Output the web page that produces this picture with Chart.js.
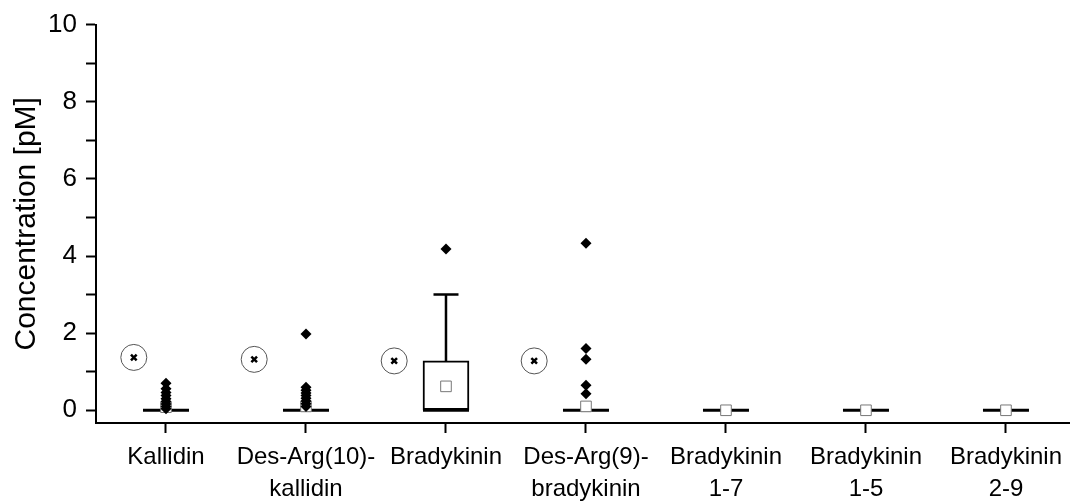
<!DOCTYPE html>
<html>
<head>
<meta charset="utf-8">
<script src="https://cdn.jsdelivr.net/npm/chart.js@4"></script>
<style>
    body { margin: 0; background: #fff; }
    #wrap { width: 1070px; height: 502px; }
</style>
</head>
<body>
<div id="wrap"><canvas id="chart" width="1070" height="502"></canvas></div>
<script>
// ─── Data ──────────────────────────────────

const categories = [
    ['Kallidin'],
    ['Des-Arg(10)-', 'kallidin'],
    ['Bradykinin'],
    ['Des-Arg(9)-', 'bradykinin'],
    ['Bradykinin', '1-7'],
    ['Bradykinin', '1-5'],
    ['Bradykinin', '2-9']
];

// box statistics per peptide
const q1          = [0, 0, 0,    0, 0, 0, 0];
const q3          = [0, 0, 1.28, 0, 0, 0, 0];
const medians     = [0, 0, 0,    0, 0, 0, 0];
const whiskerLow  = [0, 0, 0,    0, 0, 0, 0];
const whiskerHigh = [0, 0, 3.0,  0, 0, 0, 0];
const means       = [0.08, 0.1, 0.62, 0.1, 0, 0, 0];

// single values outside the whiskers
const outliers = [
    [0.7, 0.56, 0.46, 0.38, 0.3, 0.23, 0.16, 0.1, 0.04],
    [1.98, 0.6, 0.52, 0.45, 0.38, 0.31, 0.24, 0.17, 0.1],
    [4.18],
    [4.33, 1.6, 1.32, 0.65, 0.43],
    [], [], []
];

// circled x markers beside the first four groups
const markX = [-0.23, 0.63, 1.63, 2.63];
const markY = [1.37, 1.32, 1.28, 1.28];

const yTicks = [0, 1, 2, 3, 4, 5, 6, 7, 8, 9, 10];

// ─── Build datasets ────────────────────────

const boxData = [], medianData = [], capData = [], whiskerData = [], meanData = [], outlierData = [];

categories.forEach((c, i) => {
    if (q3[i] > q1[i]) boxData.push({ x: i, y: [q1[i], q3[i]] });
    medianData.push({ x: i, y: medians[i] });
    meanData.push({ x: i, y: means[i] });
    if (whiskerHigh[i] > q3[i]) {
        whiskerData.push({ x: i, y: q3[i] }, { x: i, y: whiskerHigh[i] }, { x: i, y: null });
        capData.push({ x: i, y: whiskerHigh[i] });
    }
    if (whiskerLow[i] < q1[i]) {
        whiskerData.push({ x: i, y: q1[i] }, { x: i, y: whiskerLow[i] }, { x: i, y: null });
        capData.push({ x: i, y: whiskerLow[i] });
    }
    outliers[i].forEach(v => outlierData.push({ x: i, y: v }));
});

const markData = markX.map((x, i) => ({ x, y: markY[i] }));

// ─── Chart ─────────────────────────────────

Chart.defaults.font.family = '"Liberation Sans", Arial, sans-serif';
Chart.defaults.color = '#000';

new Chart(document.getElementById('chart').getContext('2d'), {
    type: 'scatter',
    data: {
        datasets: [
            {
                type: 'bar', data: boxData, order: 6,
                backgroundColor: '#fff', borderColor: '#000', borderWidth: 2,
                borderSkipped: false, barThickness: 46
            },
            {
                data: whiskerData, order: 5, showLine: true, spanGaps: false,
                borderColor: '#000', borderWidth: 2.5, pointRadius: 0
            },
            {
                data: capData, order: 4, pointStyle: 'line', pointRadius: 12.5,
                borderColor: '#000', pointBorderWidth: 2.5
            },
            {
                data: medianData, order: 3, pointStyle: 'line', pointRadius: 23,
                borderColor: '#000', pointBorderWidth: 3
            },
            {
                data: meanData, order: 2, pointStyle: 'rect', pointRadius: 7.5,
                backgroundColor: '#fff', borderColor: '#777', pointBorderWidth: 1
            },
            {
                data: outlierData, order: 1, pointStyle: 'rectRot', pointRadius: 5.5,
                backgroundColor: '#000', borderColor: '#000', pointBorderWidth: 0
            },
            {
                data: markData, order: 0, pointStyle: 'circle', pointRadius: 13,
                backgroundColor: 'rgba(0,0,0,0)', borderColor: '#555', pointBorderWidth: 1
            },
            {
                data: markData, order: 0, pointStyle: 'crossRot', pointRadius: 4,
                borderColor: '#000', pointBorderWidth: 2.5
            }
        ]
    },
    options: {
        responsive: false,
        animation: false,
        devicePixelRatio: 1,
        layout: { autoPadding: false, padding: { top: 18, right: 0, left: 0, bottom: 0 } },
        plugins: { legend: { display: false }, tooltip: { enabled: false } },
        elements: { point: { hoverRadius: 0 } },
        scales: {
            x: {
                type: 'linear', min: -0.5, max: 6.457, offset: false,
                afterBuildTicks: s => { s.ticks = categories.map((c, i) => ({ value: i })); },
                afterFit: s => { s.height = 79; },
                ticks: {
                    autoSkip: false, maxRotation: 0, padding: 8,
                    font: { size: 24, lineHeight: 1.35 },
                    callback: v => categories[v]
                },
                grid: { offset: false, drawOnChartArea: false, tickLength: 10, tickWidth: 2, tickColor: '#000' },
                border: { color: '#000', width: 2 }
            },
            y: {
                min: -0.33, max: 10,
                afterBuildTicks: s => { s.ticks = yTicks.map(v => ({ value: v })); },
                afterFit: s => { s.width = 96; },
                ticks: {
                    padding: 9,
                    font: { size: 26 },
                    callback: v => (v % 2 === 0 ? v : '')
                },
                grid: { drawOnChartArea: false, tickLength: 10, tickWidth: 2, tickColor: '#000' },
                border: { color: '#000', width: 2 },
                title: {
                    display: true, text: 'Concentration [pM]',
                    font: { size: 30 }, padding: { top: 9, bottom: 0 }
                }
            }
        }
    }
});
</script>
</body>
</html>
